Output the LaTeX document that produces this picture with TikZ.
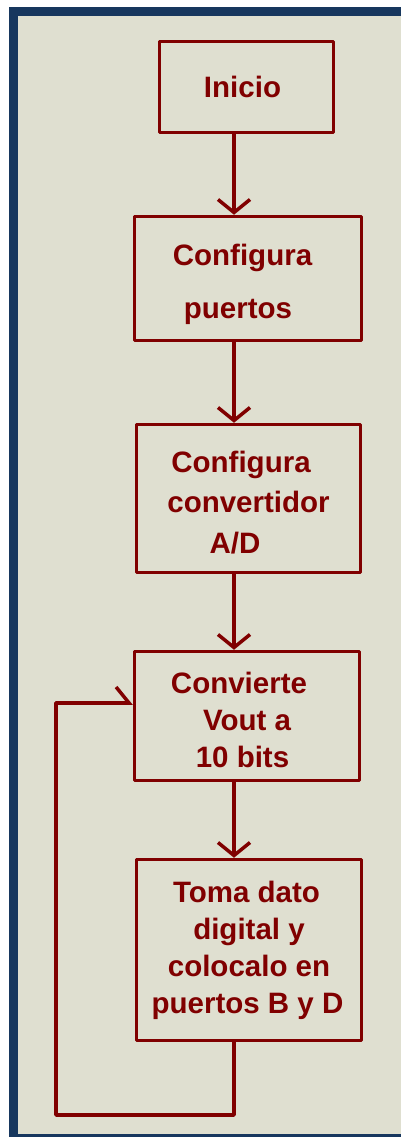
\documentclass[tikz,border=0pt]{standalone}
\usepackage{fontspec}
\setmainfont{Liberation Sans}
\usetikzlibrary{arrows.meta}

\definecolor{flowred}{HTML}{800000}
\definecolor{paper}{HTML}{DFDFD0}
\definecolor{frameblue}{HTML}{17375E}
\newcommand*{\trail}[1]{\hspace*{#1pt}}
% fixes the height of the first line and the depth of the last one
\newcommand*{\lift}[1]{\rule{0pt}{#1pt}}
\newcommand*{\sink}{\rule[-10pt]{0pt}{10pt}}

\begin{document}
\begin{tikzpicture}[
  x=1pt, y=-1pt,
  line width=3.5pt,
  >={Straight Barb[length=13pt, width=32pt]},
  flow box/.style={draw=flowred, line join=round, inner sep=0pt,
    align=center, text=flowred,
    font=\bfseries\fontsize{29.5}{37}\selectfont},
  flow/.style={draw=flowred, ->, line join=round},
]
  \newcommand*{\AxisX}{234}

  % Frame and paper
  \useasboundingbox (0,0) rectangle (401,1137);
  \fill[frameblue] (9,7) rectangle (401,1137);
  \fill[paper] (18,16) rectangle (401,1134);

  % Boxes, top to bottom
  \node[flow box, minimum width=174pt, minimum height=91pt]
    (inicio) at (246.5,87) {\lift{32}Inicio\trail{8}\sink};
  \node[flow box, minimum width=227pt, minimum height=124pt]
    (puertos) at (248,278.5)
    {\lift{36}Configura\trail{11}\\[16pt]puertos\trail{20}\sink};
  \node[flow box, minimum width=224pt, minimum height=148pt]
    (convad) at (248.5,498.5)
    {\lift{38}Configura\trail{15}\\[3.5pt]convertidor\trail{9}\\[3.5pt]A/D\trail{27}\sink};
  \node[flow box, minimum width=225pt, minimum height=129pt]
    (convierte) at (247,716)
    {\lift{38}Convierte\trail{16}\\Vout a\trail{2}\\10 bits\trail{9}\sink};
  \node[flow box, minimum width=225pt, minimum height=181pt]
    (toma) at (249,950)
    {\lift{26}Toma dato\trail{5}\\digital y\trail{23}\\colocalo en\trail{3}\\puertos B y D\trail{3}\sink};

  \coordinate (axis) at (\AxisX,0);
  \coordinate (loop corner) at (56,1115);

  % Straight arrows down the flow axis
  \foreach \a/\b in {inicio/puertos, puertos/convad, convad/convierte, convierte/toma}
    \draw[flow] (\a.south -| axis) -- (\b.north -| axis);

  % Loop back to the conversion step
  \draw[flow, -{Straight Barb[left, length=13pt, width=32pt]}]
    (toma.south -| axis) |- (loop corner) |- ([yshift=13pt]convierte.west);

\end{tikzpicture}
\end{document}
